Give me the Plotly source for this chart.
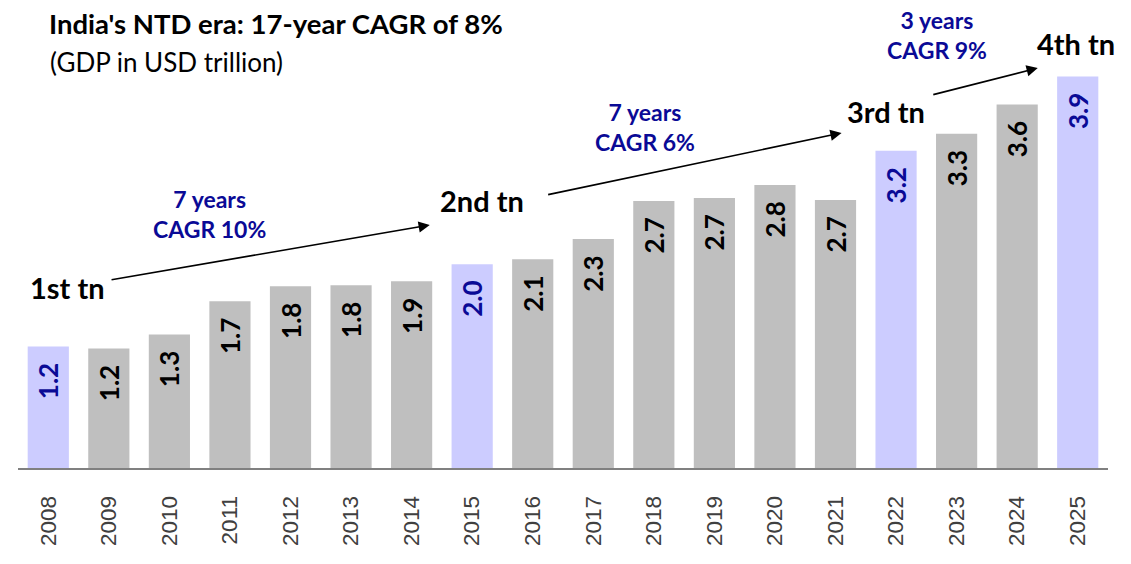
import plotly.graph_objects as go

years = list(range(2008, 2026))
gdp = [1.21, 1.19, 1.33, 1.66, 1.81, 1.82, 1.86, 2.03, 2.08, 2.28,
       2.66, 2.69, 2.82, 2.67, 3.16, 3.33, 3.62, 3.90]
highlight_years = [2008, 2015, 2022, 2025]

GRAY = "#bfbfbf"
LAV = "#ccccff"
NAVY = "#0a0a96"

bar_colors = [LAV if y in highlight_years else GRAY for y in years]
text_colors = [NAVY if y in highlight_years else "#000000" for y in years]

fig = go.Figure()
fig.add_trace(go.Bar(
    x=years, y=gdp,
    marker=dict(color=bar_colors, line=dict(width=0)),
    width=0.68,
    texttemplate="<b>%{y:.1f}</b>\u00a0\u00a0",
    textposition="inside",
    insidetextanchor="end",
    textangle=-90,
    textfont=dict(family="Lato", size=26, color=text_colors),
    hoverinfo="skip",
))

ann = []
ann.append(dict(xref="paper", yref="paper", x=0.0275, y=0.9716, xanchor="left", yanchor="middle",
                text="<b>India's NTD era: 17-year CAGR of 8%</b>", showarrow=False, borderpad=0,
                font=dict(family="Lato", size=27.5, color="#000000")))
ann.append(dict(xref="paper", yref="paper", x=0.0275, y=0.888, xanchor="left", yanchor="middle",
                text="(GDP in USD trillion)", showarrow=False,
                font=dict(family="Lato", size=26, color="#000000")))

milestones = [("1st tn", 2008.31, 1.80), ("2nd tn", 2015.16, 2.66),
              ("3rd tn", 2021.83, 3.55), ("4th tn", 2024.97, 4.23)]
for t, x, y in milestones:
    ann.append(dict(x=x, y=y, text="<b>" + t + "</b>", showarrow=False, xanchor="center", yanchor="middle",
                    font=dict(family="Lato", size=29, color="#000000")))

cagr = [("7 years<br>CAGR 10%", 2010.67, 2.53), ("7 years<br>CAGR 6%", 2017.85, 3.40),
        ("3 years<br>CAGR 9%", 2022.67, 4.31)]
for t, x, y in cagr:
    ann.append(dict(x=x, y=y, text="<b>" + t.replace("<br>", "</b><br><b>") + "</b>", showarrow=False,
                    xanchor="center", yanchor="middle", borderpad=0,
                    font=dict(family="Lato", size=23, color=NAVY)))

arrows = [((2009.02, 1.873), (2014.30, 2.42)),
          ((2016.23, 2.72), (2021.10, 3.337)),
          ((2022.59, 3.715), (2024.34, 3.984))]
for (tx, ty), (hx, hy) in arrows:
    ann.append(dict(x=hx, y=hy, ax=tx, ay=ty, xref="x", yref="y", axref="x", ayref="y",
                    text="", showarrow=True, arrowhead=2, arrowsize=1.4, arrowwidth=1.6,
                    arrowcolor="#000000", standoff=0, startstandoff=0))

fig.update_layout(
    width=1123, height=556,
    margin=dict(l=10, r=23, t=3, b=96, autoexpand=False),
    paper_bgcolor="white", plot_bgcolor="white",
    showlegend=False,
    annotations=ann,
    xaxis=dict(
        range=[2007.5, 2025.5], automargin=False,
        tickmode="array", tickvals=years, ticktext=[str(y) for y in years],
        tickangle=-90, ticks="", ticklabelstandoff=17,
        tickfont=dict(family="Liberation Sans", size=22.5, color="#404040"),
        showgrid=False, zeroline=False,
        showline=True, linecolor="#808080", linewidth=2,
    ),
    yaxis=dict(range=[0, 4.552], visible=False, showgrid=False, zeroline=False, automargin=False),
)

fig.write_html("out.html")
